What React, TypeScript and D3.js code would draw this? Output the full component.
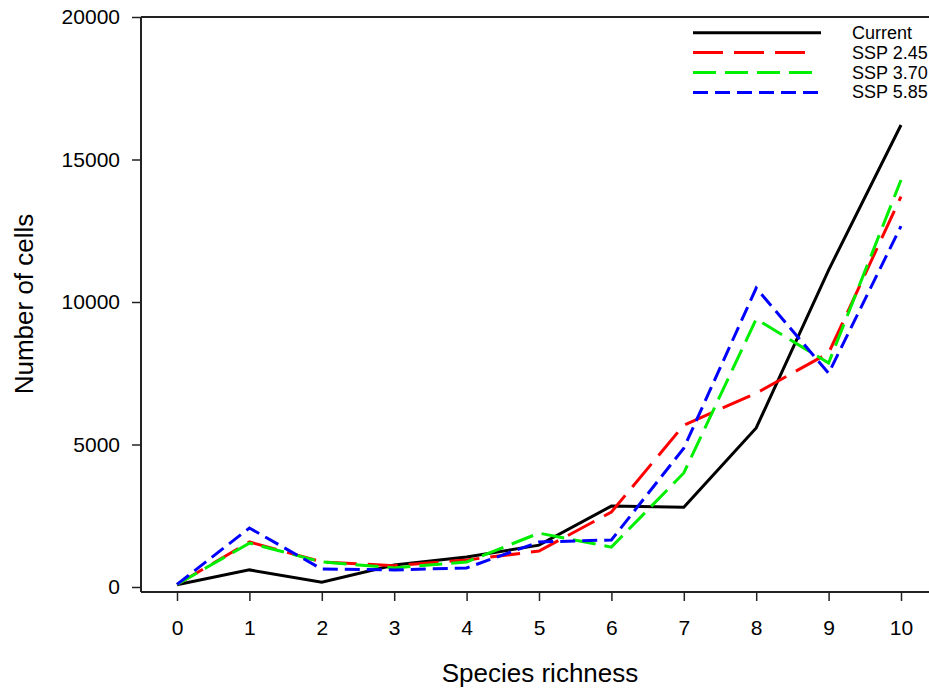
import React from "react";
import * as d3 from "d3";

const richness = [0, 1, 2, 3, 4, 5, 6, 7, 8, 9, 10];
const current = [80, 600, 170, 770, 1050, 1470, 2840, 2800, 5580, 11120, 16210];
const ssp245 = [90, 1580, 880, 750, 950, 1260, 2630, 5680, 6800, 8210, 13700];
const ssp370 = [90, 1540, 880, 670, 880, 1890, 1400, 4000, 9400, 7860, 14280];
const ssp585 = [90, 2070, 630, 600, 670, 1580, 1650, 4870, 10490, 7500, 12660];
const yTicks = [0, 5000, 10000, 15000, 20000];

const seriesNames = ["Current", "SSP 2.45", "SSP 3.70", "SSP 5.85"];
const seriesColors = ["#000000", "#ff0000", "#00ee00", "#0000ff"];
const seriesDash = [null, "30,11", "23,9", "15,7"];

const FONT = "'Liberation Sans', Arial, sans-serif";

export const useD3 = (renderChartFn: (s: any) => void, deps: any[]) => {
  const ref = React.useRef<SVGSVGElement>(null);
  React.useEffect(() => {
    renderChartFn(d3.select(ref.current));
    return () => {};
  }, deps);
  return ref;
};

function LineChart() {
  const ref = useD3((svg) => {
    svg.selectAll("*").remove();
    const width = 929;
    const left = 141;
    const top = 17;
    const axisY = 592;

    const x = d3.scaleLinear().domain([0, 10]).range([177, 901]);
    const y = d3.scaleLinear().domain([0, 20000]).range([587, top]);

    const allSeries = [current, ssp245, ssp370, ssp585];

    // frame
    const frame = svg.append("g").attr("stroke", "#222").attr("stroke-width", 2);
    frame.append("line").attr("x1", left).attr("x2", width).attr("y1", top).attr("y2", top);
    frame.append("line").attr("x1", left).attr("x2", left).attr("y1", top).attr("y2", axisY);
    frame.append("line").attr("x1", left).attr("x2", width).attr("y1", axisY).attr("y2", axisY);

    // y axis
    svg
      .append("g")
      .attr("transform", `translate(${left},0)`)
      .call(d3.axisLeft(y).tickValues(yTicks).tickSize(9).tickPadding(12).tickFormat(d3.format("d")))
      .call((g) => g.select(".domain").remove())
      .call((g) => g.selectAll("line").attr("stroke", "#222").attr("stroke-width", 1.5))
      .call((g) =>
        g.selectAll("text").attr("font-family", FONT).attr("font-size", 21).attr("fill", "#000")
      );

    // x axis
    svg
      .append("g")
      .attr("transform", `translate(0,${axisY})`)
      .call(d3.axisBottom(x).tickValues(richness).tickSize(9).tickPadding(19).tickFormat(d3.format("d")))
      .call((g) => g.select(".domain").remove())
      .call((g) => g.selectAll("line").attr("stroke", "#222").attr("stroke-width", 1.5))
      .call((g) =>
        g.selectAll("text").attr("font-family", FONT).attr("font-size", 21).attr("fill", "#000")
      );

    // titles
    svg
      .append("text")
      .attr("x", 540)
      .attr("y", 682)
      .attr("text-anchor", "middle")
      .attr("font-family", FONT)
      .attr("font-size", 26)
      .text("Species richness");

    svg
      .append("text")
      .attr("transform", `translate(33,304) rotate(-90)`)
      .attr("text-anchor", "middle")
      .attr("font-family", FONT)
      .attr("font-size", 26)
      .text("Number of cells");

    // lines
    const line = d3
      .line<number>()
      .x((d, i) => x(richness[i]))
      .y((d) => y(d));

    svg
      .append("g")
      .selectAll("path")
      .data(allSeries)
      .join("path")
      .attr("fill", "none")
      .attr("stroke", (d, i) => seriesColors[i])
      .attr("stroke-width", 3)
      .attr("stroke-dasharray", (d, i) => seriesDash[i])
      .attr("stroke-linejoin", "miter")
      .attr("d", (d) => line(d));

    // legend (each sample ends after its last whole dash)
    const legendEnd = [821, 808, 813, 821];
    const legend = svg
      .append("g")
      .selectAll("g")
      .data(seriesNames)
      .join("g")
      .attr("transform", (d, i) => `translate(0,${32.7 + i * 19.9})`);

    legend
      .append("line")
      .attr("x1", 693)
      .attr("x2", (d, i) => legendEnd[i])
      .attr("stroke", (d, i) => seriesColors[i])
      .attr("stroke-width", 3)
      .attr("stroke-dasharray", (d, i) => seriesDash[i]);

    legend
      .append("text")
      .attr("x", 852)
      .attr("y", 6)
      .attr("font-family", FONT)
      .attr("font-size", 18)
      .text((d) => d);
  }, []);

  return (
    <svg
      ref={ref}
      width={929}
      height={694}
      style={{ position: "absolute", left: 0, top: 0, background: "#fff" }}
    />
  );
}

export default function App() {
  return <LineChart />;
}
